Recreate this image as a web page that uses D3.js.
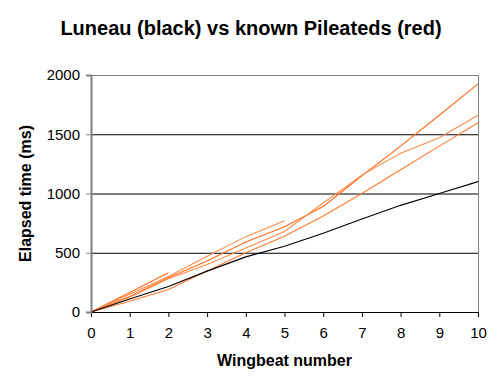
<!DOCTYPE html>
<html>
<head>
<meta charset="utf-8">
<script src="https://cdn.jsdelivr.net/npm/d3@7"></script>
<style>
	body { margin: 0; background: #fff; }
	text { font-family: "Liberation Sans", Arial, sans-serif; }
</style>
</head>
<body>
<div id="chart"></div>
<script>

// Wingbeat numbers on the x axis
var beats = [0, 1, 2, 3, 4, 5, 6, 7, 8, 9, 10];

// Luneau video (black)
var luneau = [0, 110, 215, 345, 465, 555, 665, 785, 900, 1000, 1100];

// Known Pileateds (red)
var pileatedA = [0, 165, 332];
var pileatedB = [0, 150, 300, 470, 636, 770];
var pileatedC = [0, 130, 290, 430, 590, 720, 890, 1150, 1400, 1660, 1925];
var pileatedD = [0, 125, 280, 400, 540, 680, 920, 1155, 1340, 1470, 1660];
var pileatedE = [0, 90, 190, 345, 500, 640, 810, 1000, 1200, 1400, 1597];

var yTicks = [0, 500, 1000, 1500, 2000];

var title = 'Luneau (black) vs known Pileateds (red)';
var xTitle = 'Wingbeat number';
var yTitle = 'Elapsed time (ms)';


var width = 500, height = 386;
// Plot area edges (note: 'top' is a reserved window prop, so use plot*)
var plotLeft = 91, plotRight = 478, plotTop = 75, plotBottom = 312;

var svg = d3.select('#chart').append('svg')
	.attr('width', width)
	.attr('height', height);

var x = d3.scaleLinear().domain([0, 10]).range([plotLeft, plotRight]);
var y = d3.scaleLinear().domain([0, 2000]).range([plotBottom, plotTop]);

// Gridlines
svg.append('g')
	.selectAll('line')
	.data(yTicks.slice(1, -1))
	.enter()
	.append('line')
	.attr('x1', plotLeft).attr('x2', plotRight)
	.attr('y1', (d) => y(d) + 0.5).attr('y2', (d) => y(d) + 0.5)
	.attr('stroke', '#000')
	.attr('stroke-width', 1);

// Plot frame (top and right)
svg.append('path')
	.attr('d', 'M' + plotLeft + ',' + (plotTop + 0.5) + 'H' + (plotRight + 0.5) + 'V' + plotBottom)
	.attr('fill', 'none')
	.attr('stroke', '#808080')
	.attr('stroke-width', 1);

// Series lines
var line = d3.line()
	.x((d, i) => x(beats[i]))
	.y((d) => y(d));

var reds = [
	{ values: pileatedA, color: '#ff6a1a' },
	{ values: pileatedB, color: '#ff8a4a' },
	{ values: pileatedC, color: '#ff6a1a' },
	{ values: pileatedD, color: '#ff8a4a' },
	{ values: pileatedE, color: '#ff7a30' }
];

svg.append('g')
	.selectAll('path')
	.data(reds)
	.enter()
	.append('path')
	.attr('d', (d) => line(d.values))
	.attr('fill', 'none')
	.attr('stroke', (d) => d.color)
	.attr('stroke-width', 1.1);

svg.append('path')
	.attr('d', line(luneau))
	.attr('fill', 'none')
	.attr('stroke', '#000')
	.attr('stroke-width', 1.1);

// Axes
var xAxis = d3.axisBottom(x)
	.tickValues(beats)
	.tickSize(5)
	.tickPadding(10)
	.tickFormat(d3.format('d'));

var gx = svg.append('g')
	.attr('transform', 'translate(0,' + plotBottom + ')')
	.call(xAxis);

gx.select('.domain').attr('stroke', '#000');
gx.selectAll('.tick line').attr('stroke', '#000');
gx.selectAll('.tick text')
	.attr('font-size', 15)
	.attr('font-family', '"Liberation Sans", Arial, sans-serif')
	.attr('fill', '#000');

var yAxis = d3.axisLeft(y)
	.tickValues(yTicks)
	.tickSize(5)
	.tickPadding(6)
	.tickFormat(d3.format('d'));

var gy = svg.append('g')
	.attr('transform', 'translate(' + plotLeft + ',0)')
	.call(yAxis);

gy.select('.domain').attr('stroke', '#808080').attr('stroke-width', 2);
gy.selectAll('.tick line').attr('stroke', '#808080');
gy.selectAll('.tick text')
	.attr('font-size', 15)
	.attr('font-family', '"Liberation Sans", Arial, sans-serif')
	.attr('fill', '#000');

// Titles
svg.append('text')
	.attr('x', 251)
	.attr('y', 35)
	.attr('text-anchor', 'middle')
	.attr('font-size', 20)
	.attr('font-weight', 'bold')
	.text(title);

svg.append('text')
	.attr('x', (plotLeft + plotRight) / 2)
	.attr('y', 366)
	.attr('text-anchor', 'middle')
	.attr('font-size', 16)
	.attr('font-weight', 'bold')
	.text(xTitle);

svg.append('text')
	.attr('transform', 'translate(31,' + (plotTop + plotBottom) / 2 + ') rotate(-90)')
	.attr('text-anchor', 'middle')
	.attr('font-size', 16)
	.attr('font-weight', 'bold')
	.text(yTitle);

</script>
</body>
</html>
